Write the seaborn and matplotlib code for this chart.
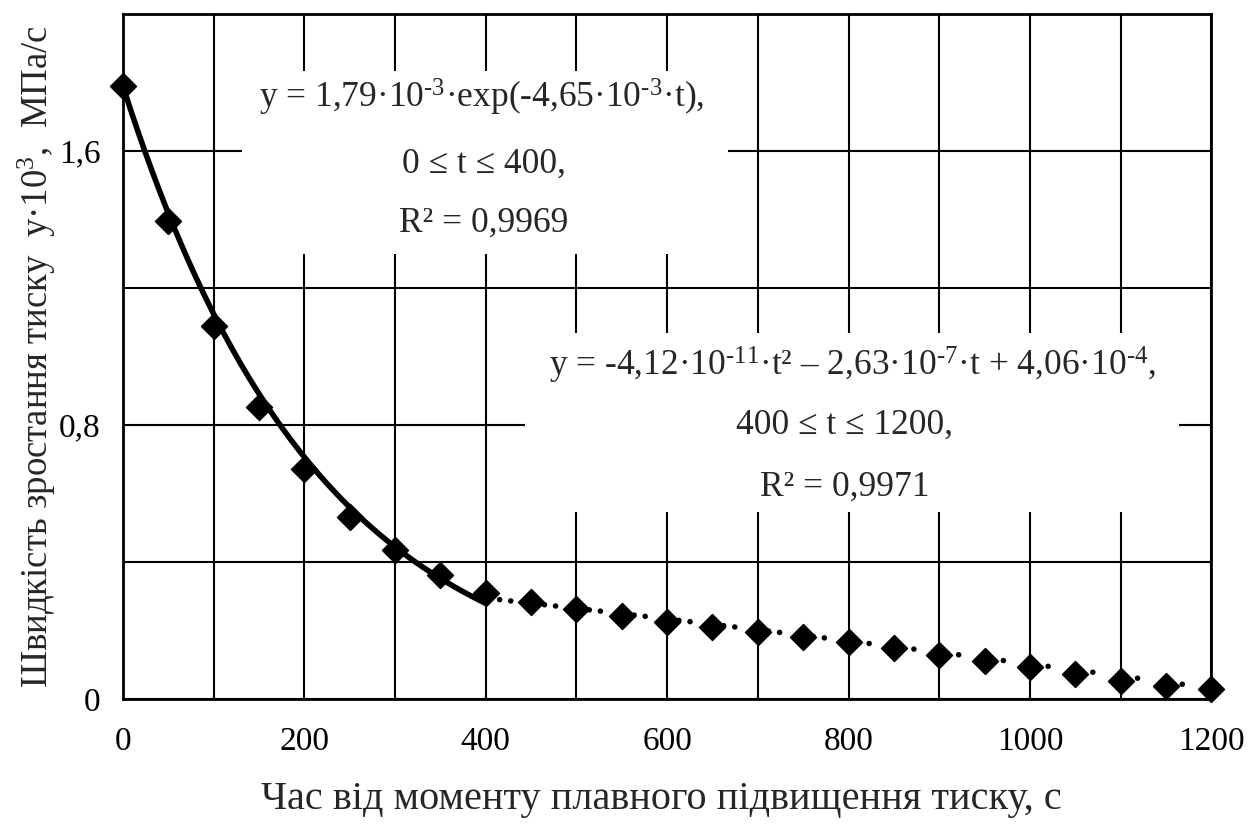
import numpy as np
import pandas as pd
import seaborn as sns
import matplotlib.pyplot as plt
from matplotlib.patches import Rectangle

# дані (y у одиницях 10^-3 МПа/с)
t_pts = [0, 50, 100, 150, 200, 250, 300, 350, 400, 450, 500, 550, 600,
         650, 700, 750, 800, 850, 900, 950, 1000, 1050, 1100, 1150, 1200]
y_pts = [1.79, 1.396, 1.09, 0.851, 0.670, 0.530, 0.435, 0.362, 0.309, 0.283,
         0.262, 0.242, 0.224, 0.210, 0.195, 0.181, 0.166, 0.149, 0.128,
         0.111, 0.093, 0.073, 0.052, 0.038, 0.029]

# коефіцієнти апроксимацій, як на графіку (помножені на 10^3)
exp_a, exp_b = 1.79, -4.65e-3
quad_a, quad_b, quad_c = -4.12e-8, -2.63e-4, 0.406

x_ticks = [0, 200, 400, 600, 800, 1000, 1200]
x_minor = [100, 300, 500, 700, 900, 1100]
y_ticks = [0, 0.4, 0.8, 1.2, 1.6]
y_tick_labels = ['0', '', '0,8', '', '1,6']

hy = '\u2010'
eq1 = [f'y = 1,79·10$^{{{hy}3}}$·exp(-4,65·10$^{{{hy}3}}$·t),', '0 ≤ t ≤ 400,', 'R² = 0,9969']
eq2 = [f'y = -4,12·10$^{{{hy}11}}$·t² – 2,63·10$^{{{hy}7}}$·t + 4,06·10$^{{{hy}4}}$,',
       '400 ≤ t ≤ 1200,', 'R² = 0,9971']

sns.set_style('white')
plt.rcParams['font.family'] = ['Liberation Serif', 'DejaVu Serif']
plt.rcParams['mathtext.fontset'] = 'custom'
plt.rcParams['mathtext.rm'] = 'Liberation Serif'
plt.rcParams['mathtext.it'] = 'Liberation Serif'

df = pd.DataFrame({'t': t_pts, 'y': y_pts})
t1 = np.linspace(0, 400, 200)
fit1 = pd.DataFrame({'t': t1, 'y': exp_a * np.exp(exp_b * t1)})
t2 = np.linspace(400, 1200, 400)
fit2 = pd.DataFrame({'t': t2, 'y': quad_a * t2**2 + quad_b * t2 + quad_c})

fig = plt.figure(figsize=(12.54, 8.27), dpi=100)
ax = fig.add_axes([0.098, 0.155, 0.868, 0.828])

ax.set_xticks(x_minor, minor=True)
ax.grid(True, which='both', color='black', lw=1.5)
ax.set_axisbelow(True)

# білі підкладки під рівняння
ax.add_patch(Rectangle((131, 1.30), 536, 0.533, fc='white', ec='none', zorder=1))
ax.add_patch(Rectangle((443, 0.545), 721, 0.522, fc='white', ec='none', zorder=1))

sns.lineplot(data=fit1, x='t', y='y', ax=ax, color='black', lw=4, zorder=3)
l2 = sns.lineplot(data=fit2, x='t', y='y', ax=ax, color='black', lw=4, zorder=3).lines[-1]
l2.set_linestyle((5.6, (0.01, 2.0, 0.01, 6.1)))
l2.set_dash_capstyle('round')
sns.scatterplot(data=df, x='t', y='y', ax=ax, marker='D', s=175, color='black',
                edgecolor='black', zorder=4, clip_on=False)

for txt, xx, yy in zip(eq1, [395, 398, 398], [1.755, 1.562, 1.390]):
    ax.text(xx, yy, txt, ha='center', va='center', fontsize=25.5, zorder=5)
for txt, xx, yy in zip(eq2, [804, 795, 796], [0.973, 0.799, 0.618]):
    ax.text(xx, yy, txt, ha='center', va='center', fontsize=25.5, zorder=5)

ax.set_xlim(0, 1200)
ax.set_ylim(0, 2.0)
ax.set_xticks(x_ticks)
ax.set_xticklabels([str(v) for v in x_ticks])
ax.set_yticks(y_ticks)
ax.set_yticklabels(y_tick_labels)
ax.tick_params(which='major', direction='inout', length=20, width=1.5, labelsize=24,
               colors='black')
ax.tick_params(which='minor', length=0)
ax.tick_params(axis='x', pad=10)
ax.tick_params(axis='y', pad=6)
for s in ax.spines.values():
    s.set_color('black')
    s.set_linewidth(2)

ax.set_xlabel('Час від моменту плавного підвищення тиску, с', fontsize=29)
ax.xaxis.set_label_coords(0.495, -0.12)
ax.set_ylabel('Швидкість зростання тиску  y·10$^3$,  МПа/с', fontsize=26.5)
ax.yaxis.set_label_coords(-0.06, 0.5)

fig.savefig('out.png', dpi=100)
